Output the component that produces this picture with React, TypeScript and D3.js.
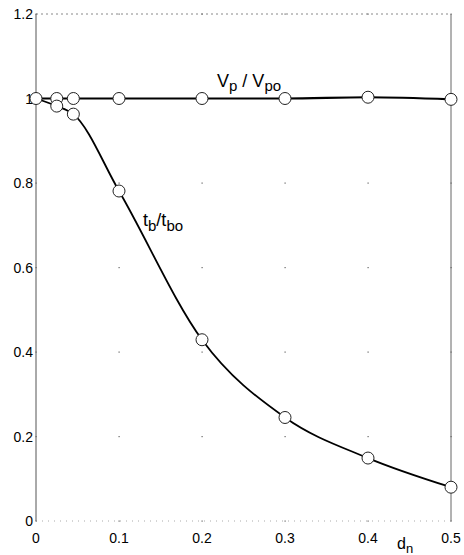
import React from "react";
import * as d3 from "d3";

// data
const vpX = [0, 0.025, 0.045, 0.1, 0.2, 0.3, 0.4, 0.5];
const vpY = [1, 1.0, 1.0, 1.0, 1.0, 1.0, 1.003, 0.998];
const tbX = [0, 0.025, 0.045, 0.1, 0.2, 0.3, 0.4, 0.5];
const tbY = [1, 0.982, 0.963, 0.781, 0.429, 0.245, 0.149, 0.08];
const xTicks = [0, 0.1, 0.2, 0.3, 0.4, 0.5];
const xTickLabels = ["0", "0.1", "0.2", "0.3", "0.4", "0.5"];
const yTicks = [0, 0.2, 0.4, 0.6, 0.8, 1, 1.2];
const yTickLabels = ["0", "0.2", "0.4", "0.6", "0.8", "1", "1.2"];

export default function App() {
  const width = 464;
  const height = 555;
  const font = "'Liberation Sans', Arial, sans-serif";

  //scales
  const x = d3.scaleLinear().domain([0, 0.5]).range([36, 451]);
  const y = d3.scaleLinear().domain([0, 1.2]).range([521, 14]);

  const line = d3
    .line<[number, number]>()
    .x((d) => x(d[0]))
    .y((d) => y(d[1]))
    .curve(d3.curveMonotoneX);

  const vp: [number, number][] = vpX.map((v, i) => [v, vpY[i]]);
  const tb: [number, number][] = tbX.map((v, i) => [v, tbY[i]]);

  const [x0, x1] = x.range();
  const [y0, y1] = y.range();

  //grid dots at tick crossings
  const dots = [];
  for (const tx of xTicks) {
    for (const ty of yTicks) {
      dots.push(
        <rect key={tx + "-" + ty} x={x(tx) - 0.5} y={y(ty) - 0.5} width={1.2} height={1.2} fill="#666" />
      );
    }
  }

  return (
    <svg
      width={width}
      height={height}
      style={{ position: "absolute", left: 0, top: 0, background: "#fff" }}
    >
      {/* frame */}
      <line x1={x0} x2={x0} y1={y1} y2={y0} stroke="#555" strokeWidth={1} />
      <line x1={x1} x2={x1} y1={y1} y2={y0} stroke="#666" strokeWidth={1} />
      <line x1={x0} x2={x1} y1={y1} y2={y1} stroke="#888" strokeWidth={1} strokeDasharray="2,3" />
      <line x1={x0} x2={x1} y1={y0} y2={y0} stroke="#aaa" strokeWidth={1} strokeDasharray="1,5" />
      {dots}

      {/* tick labels */}
      {xTicks.map((t, i) => (
        <text key={"x" + t} x={x(t)} y={543} textAnchor="middle" fontFamily={font} fontSize={14} fill="#000">
          {xTickLabels[i]}
        </text>
      ))}
      {yTicks.map((t, i) => (
        <text key={"y" + t} x={33} y={y(t) + 5} textAnchor="end" fontFamily={font} fontSize={14} fill="#000">
          {yTickLabels[i]}
        </text>
      ))}

      {/* curves */}
      <path d={line(vp) || ""} fill="none" stroke="#000" strokeWidth={2.2} />
      <path d={line(tb) || ""} fill="none" stroke="#000" strokeWidth={1.8} />

      {vp.map((d, i) => (
        <circle key={"vp" + i} cx={x(d[0])} cy={y(d[1])} r={6} fill="#fff" stroke="#222" strokeWidth={1} />
      ))}
      {tb.slice(1).map((d, i) => (
        <circle key={"tb" + i} cx={x(d[0])} cy={y(d[1])} r={6} fill="#fff" stroke="#222" strokeWidth={1} />
      ))}

      {/* labels */}
      <text x={217} y={87} fontFamily={font} fontSize={18} fill="#000">
        V<tspan fontSize={15} dy={4}>p</tspan>
        <tspan dy={-4}> / V</tspan>
        <tspan fontSize={15} dy={4}>po</tspan>
      </text>
      <text x={143} y={226} fontFamily={font} fontSize={18} fill="#000">
        t<tspan fontSize={15} dy={5}>b</tspan>
        <tspan dy={-5}>/t</tspan>
        <tspan fontSize={15} dy={5}>bo</tspan>
      </text>
      <text x={397} y={549} fontFamily={font} fontSize={16} fill="#000">
        d<tspan fontSize={13} dy={4}>n</tspan>
      </text>
    </svg>
  );
}
